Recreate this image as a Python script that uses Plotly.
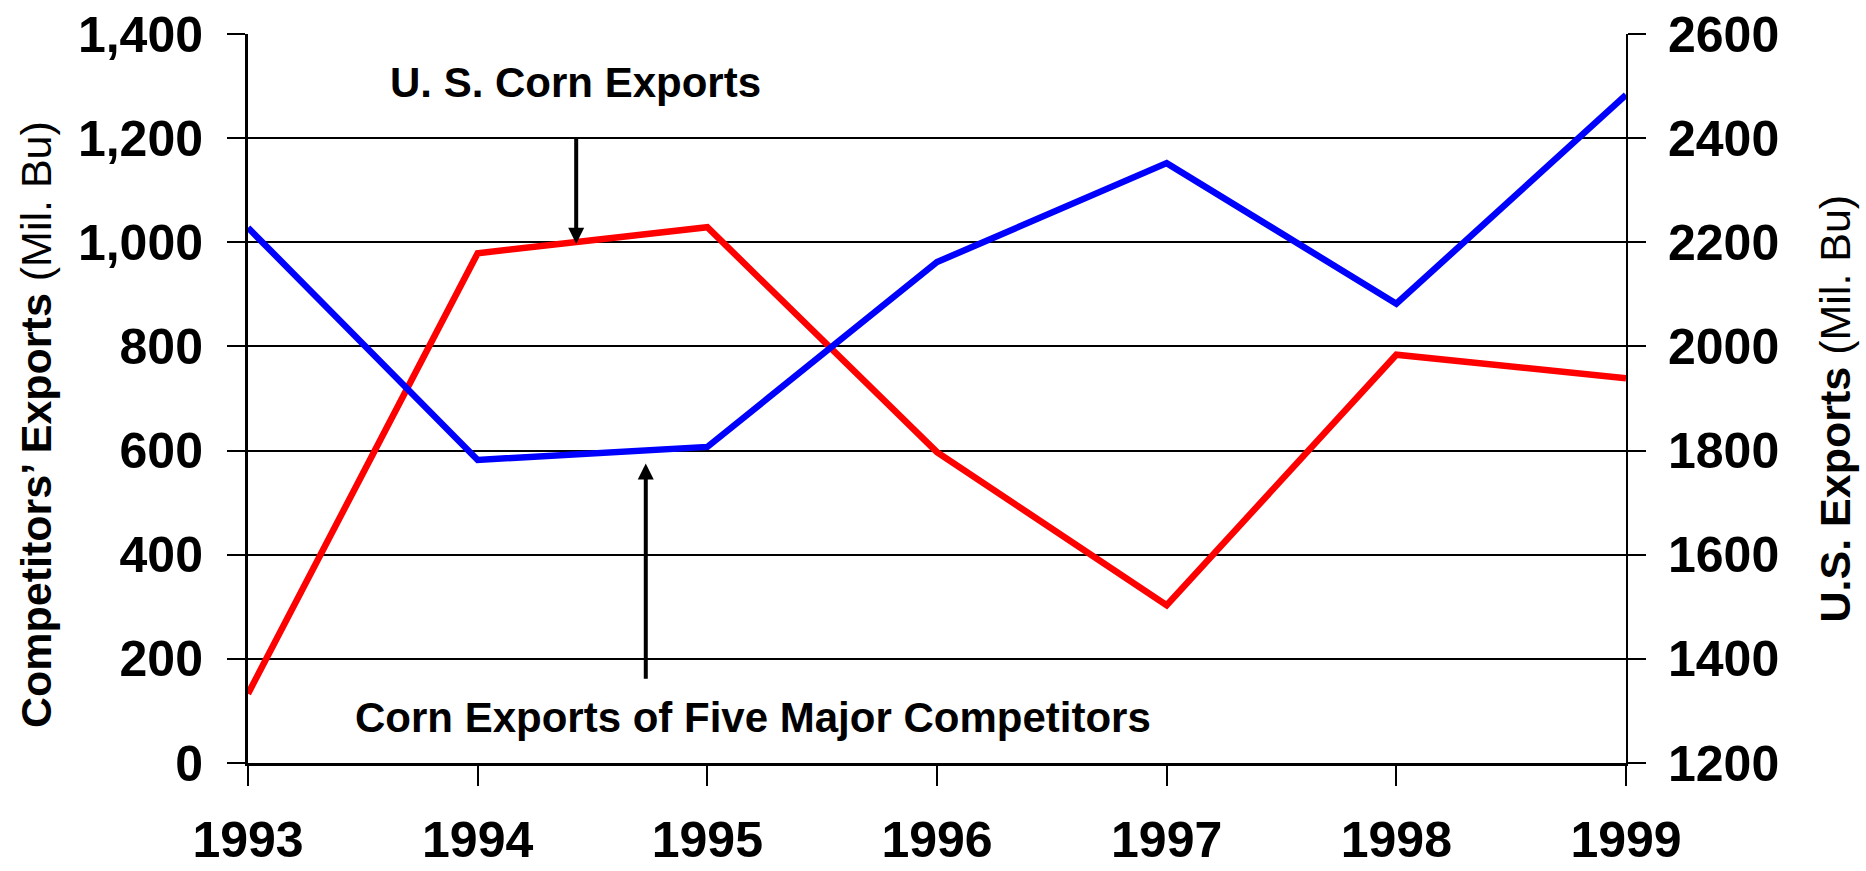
import plotly.graph_objects as go

years = [1993, 1994, 1995, 1996, 1997, 1998, 1999]
# Series drawn in red, read on left axis (Mil. Bu)
competitors_exports = [133, 979, 1029, 597, 303, 784, 739]
# Series drawn in blue, read on right axis (Mil. Bu)
us_exports = [2228, 1782, 1807, 2162, 2352, 2082, 2483]

left_ticks = [0, 200, 400, 600, 800, 1000, 1200, 1400]
right_ticks = [1200, 1400, 1600, 1800, 2000, 2200, 2400, 2600]

label_top = "U. S. Corn Exports"
label_bottom = "Corn Exports of Five Major Competitors"
left_title = "<b>Competitors’ Exports</b> (Mil. Bu)"
right_title = "<b>U.S. Exports</b> (Mil. Bu)"

SANS = "Liberation Sans, Arial, sans-serif"
TICKFONT = dict(family=SANS, size=50, color="black", weight="bold")

fig = go.Figure()
fig.add_trace(go.Scatter(x=years, y=competitors_exports, mode="lines",
                         line=dict(color="#FF0000", width=6.5), yaxis="y", showlegend=False))
fig.add_trace(go.Scatter(x=years, y=us_exports, mode="lines",
                         line=dict(color="#0000FF", width=6.5), yaxis="y2", showlegend=False))

fig.update_layout(
    template="none",
    width=1866, height=871,
    margin=dict(l=248, r=240, t=34, b=108, pad=0, autoexpand=False),
    paper_bgcolor="white", plot_bgcolor="white",
    xaxis=dict(range=[1993, 1999], tickvals=years, ticktext=[str(y) for y in years],
               automargin=False,
               showgrid=False, zeroline=False, showline=True, linecolor="black", linewidth=3,
               ticks="outside", ticklen=20, tickwidth=2, tickcolor="black",
               tickfont=TICKFONT, ticklabelstandoff=11),
    yaxis=dict(range=[0, 1400], tickvals=left_ticks, tickformat=",", automargin=False,
               showgrid=True, gridcolor="black", gridwidth=2, zeroline=False,
               showline=True, linecolor="black", linewidth=3,
               ticks="outside", ticklen=18, tickwidth=2, tickcolor="black",
               tickfont=TICKFONT, ticklabelstandoff=14),
    yaxis2=dict(range=[1200, 2600], tickvals=right_ticks, tickformat="d", automargin=False,
                overlaying="y", side="right", showgrid=False, zeroline=False,
                showline=True, linecolor="black", linewidth=2,
                ticks="outside", ticklen=18, tickwidth=2, tickcolor="black",
                tickfont=TICKFONT, ticklabelstandoff=12),
)

annotations = [
    dict(x=1994.425, y=1306, xref="x", yref="y", text=label_top, showarrow=False,
         font=dict(family=SANS, size=42, color="black", weight="bold"),
         xanchor="center", yanchor="middle"),
    dict(x=1995.2, y=88, xref="x", yref="y", text=label_bottom, showarrow=False,
         font=dict(family=SANS, size=42, color="black", weight="bold"),
         xanchor="center", yanchor="middle"),
    dict(x=1994.429, y=997, ax=1994.429, ay=1202, xref="x", yref="y", axref="x", ayref="y",
         text="", showarrow=True, arrowhead=2, arrowsize=0.8, arrowwidth=4, arrowcolor="black"),
    dict(x=1994.732, y=575, ax=1994.732, ay=159, xref="x", yref="y", axref="x", ayref="y",
         text="", showarrow=True, arrowhead=2, arrowsize=0.8, arrowwidth=4, arrowcolor="black"),
    dict(x=(36 - 248) / 1378, y=0.4636, xref="paper", yref="paper", text=left_title,
         textangle=-90, showarrow=False, xanchor="center", yanchor="middle",
         font=dict(family=SANS, size=43, color="black")),
    dict(x=(1835 - 248) / 1378, y=0.4863, xref="paper", yref="paper", text=right_title,
         textangle=-90, showarrow=False, xanchor="center", yanchor="middle",
         font=dict(family=SANS, size=43, color="black")),
]
fig.update_layout(annotations=annotations)

fig.write_html("out.html", config={"displayModeBar": False},
               post_script="document.body.style.margin='0px';")
